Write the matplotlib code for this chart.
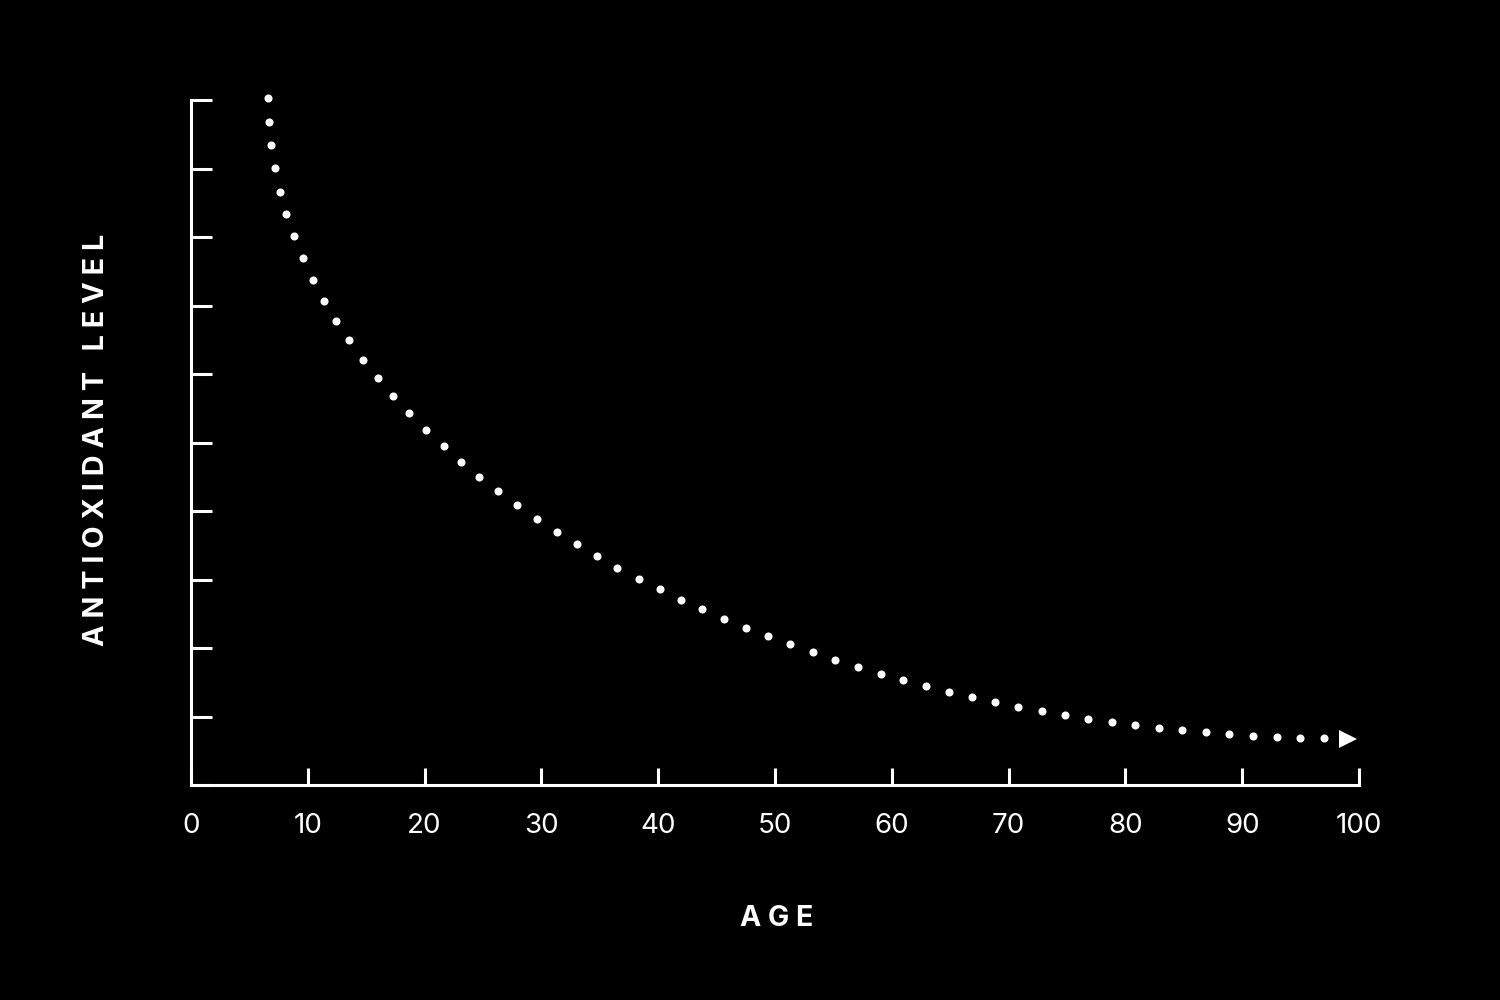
import matplotlib
matplotlib.use("Agg")
import matplotlib.pyplot as plt

# Data (age in years, antioxidant level on 0-10 scale)
age = [6.59, 6.68, 6.85, 7.19, 7.62, 8.13, 8.82, 9.59, 10.45, 11.39, 12.41, 13.53,
       14.73, 16.01, 17.29, 18.66, 20.12, 21.66, 23.12, 24.66, 26.28, 27.91, 29.62,
       31.34, 33.05, 34.76, 36.47, 38.36, 40.15, 41.95, 43.75, 45.63, 47.52, 49.40,
       51.28, 53.25, 55.14, 57.11, 59.08, 60.96, 62.93, 64.90, 66.87, 68.84, 70.80,
       72.86, 74.83, 76.80, 78.85, 80.82, 82.88, 84.85, 86.90, 88.87, 90.92, 92.98,
       94.95, 97.00]
level = [10.03, 9.68, 9.34, 9.01, 8.66, 8.34, 8.01, 7.69, 7.37, 7.07, 6.77, 6.50,
         6.20, 5.94, 5.68, 5.43, 5.18, 4.95, 4.72, 4.50, 4.29, 4.09, 3.88, 3.69,
         3.52, 3.34, 3.17, 3.01, 2.86, 2.70, 2.57, 2.42, 2.29, 2.18, 2.06, 1.94,
         1.82, 1.72, 1.62, 1.53, 1.45, 1.36, 1.28, 1.21, 1.14, 1.08, 1.02, 0.96,
         0.92, 0.88, 0.83, 0.80, 0.77, 0.74, 0.72, 0.70, 0.69, 0.69]
arrow_age = [99.1]
arrow_level = [0.675]

x_ticks = [0, 10, 20, 30, 40, 50, 60, 70, 80, 90, 100]
x_tick_labels = ["0", "10", "20", "30", "40", "50", "60", "70", "80", "90", "100"]
y_ticks = [0, 1, 2, 3, 4, 5, 6, 7, 8, 9, 10]

FONT = ["Inter", "DejaVu Sans"]

fig = plt.figure(figsize=(15, 10), dpi=100, facecolor="black")
ax = fig.add_axes([191 / 1500, 215 / 1000, 1168 / 1500, 685 / 1000])
ax.set_facecolor("black")

ax.plot(age, level, linestyle="none", marker="o", markersize=5.8,
        color="white", markeredgewidth=0, clip_on=False)
ax.plot(arrow_age, arrow_level, linestyle="none", marker=">", markersize=13,
        color="white", markeredgewidth=0, clip_on=False)

ax.set_xlim(0, 100)
ax.set_ylim(0, 10)

for side in ["top", "right"]:
    ax.spines[side].set_visible(False)
for side in ["left", "bottom"]:
    ax.spines[side].set_color("white")
    ax.spines[side].set_linewidth(2.2)
    ax.spines[side].set_capstyle("projecting")

ax.set_xticks(x_ticks)
ax.set_xticklabels(x_tick_labels, family=FONT, fontsize=20, color="white")
ax.set_yticks(y_ticks)
ax.set_yticklabels([])
ax.tick_params(axis="x", direction="in", length=12.5, width=2.2, color="white", pad=20)
ax.tick_params(axis="y", direction="in", length=15, width=2.2, color="white")

fig.text(777 / 1500, 1 - 918 / 1000, "A G E", ha="center", va="center",
         family=FONT, fontweight="bold", fontsize=20.5, color="white")
fig.text(97 / 1500, 1 - 440 / 1000, "A N T I O X I D A N T   L E V E L",
         ha="center", va="center", rotation=90,
         family=FONT, fontweight="bold", fontsize=20.8, color="white")

fig.savefig("out.png", dpi=100, facecolor="black")
